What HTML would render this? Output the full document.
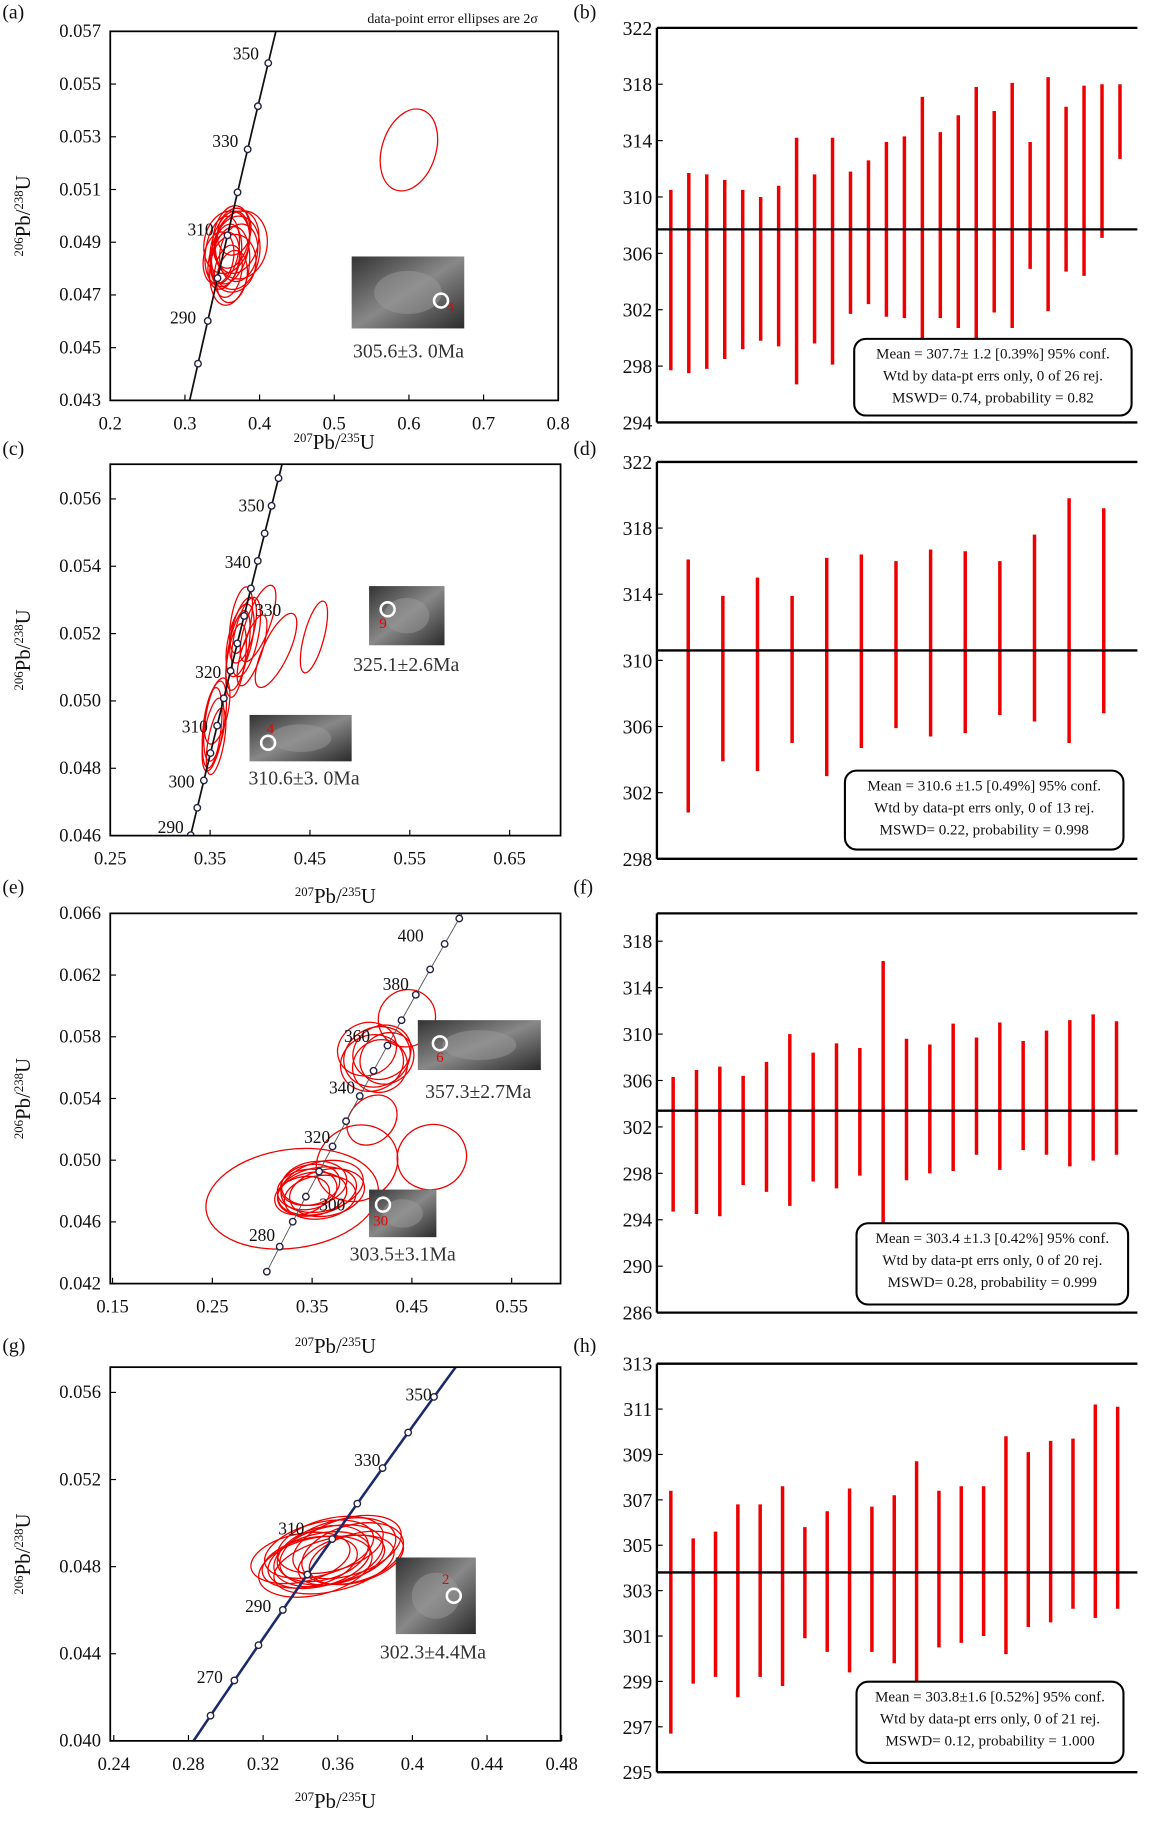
<!DOCTYPE html>
<html><head><meta charset="utf-8"><style>
html,body{margin:0;padding:0;background:#fff}
svg{display:block}
text{font-family:"Liberation Serif",serif;fill:#111}
</style></head><body>
<svg id="fig" width="1149" height="1825" viewBox="0 0 990 1572.5" preserveAspectRatio="none" xmlns="http://www.w3.org/2000/svg">
<defs>
<linearGradient id="g1" x1="0" y1="0" x2="1" y2="1"><stop offset="0" stop-color="#333"/><stop offset="0.5" stop-color="#888"/><stop offset="1" stop-color="#2a2a2a"/></linearGradient>
</defs>
</svg>
<script>
// ===== Weighted-mean data =====
const bTop=[310.5,311.7,311.6,311.2,310.5,310,310.8,314.2,311.6,314.2,311.8,312.6,313.9,314.3,317.1,314.6,315.8,317.8,316.1,318.1,313.9,318.5,316.4,317.9,318,318];
const bBot=[297.7,297.5,297.8,298.5,299.2,299.8,299.4,296.7,299.6,298.1,301.7,302.4,301.5,301.4,299.9,301.4,300.7,299.9,301.8,300.7,304.9,301.9,304.7,304.4,307.1,312.7];
const bMean=[307.7];
const bTicks=[294,298,302,306,310,314,318,322];
const dTop=[316.1,313.9,315,313.9,316.2,316.4,316,316.7,316.6,316,317.6,319.8,319.2];
const dBot=[300.8,303.9,303.3,305,303,304.7,305.9,305.4,305.6,306.7,306.3,305,306.8];
const dMean=[310.6];
const dTicks=[298,302,306,310,314,318,322];
const fTop=[306.3,306.9,307.2,306.4,307.6,310,308.4,309.2,308.8,316.3,309.6,309.1,310.9,309.7,311,309.4,310.3,311.2,311.7,311.1];
const fBot=[294.7,294.5,294.3,297,296.4,295.2,297.3,296.7,297.8,293.4,297.4,298,298.2,299.6,298.3,300,299.6,298.6,299.1,299.6];
const fMean=[303.4];
const fTicks=[286,290,294,298,302,306,310,314,318];
const hTop=[307.4,305.3,305.6,306.8,306.8,307.6,305.8,306.5,307.5,306.7,307.2,308.7,307.4,307.6,307.6,309.8,309.1,309.6,309.7,311.2,311.1];
const hBot=[296.7,298.9,299.2,298.3,299.2,298.8,300.9,300.3,299.4,300.3,299.8,299,300.5,300.7,301,300.2,301.4,301.6,302.2,301.8,302.2];
const hMean=[303.8];
const hTicks=[295,297,299,301,303,305,307,309,311,313];
// ===== Concordia ellipse data =====
const aCx=[0.355,0.36,0.365,0.35,0.37,0.358,0.362,0.368,0.352,0.375,0.36,0.345,0.366,0.356,0.372,0.363,0.6];
const aCy=[0.0485,0.0488,0.0482,0.0487,0.049,0.0479,0.0492,0.0486,0.0483,0.0489,0.0481,0.0484,0.0494,0.049,0.0486,0.0477,0.0525];
const aRx=[0.02,0.025,0.03,0.022,0.028,0.018,0.024,0.032,0.02,0.035,0.026,0.02,0.022,0.03,0.025,0.02,0.036];
const aRy=[0.0012,0.0014,0.0011,0.0013,0.0012,0.001,0.0012,0.0014,0.0011,0.0013,0.0015,0.001,0.0009,0.0012,0.0011,0.001,0.0016];
const aAng=[-80,-78,-82,-80,-76,-80,-79,-81,-78,-80,-82,-80,-78,-77,-80,-80,-72];
const cCx=[0.38,0.378,0.383,0.376,0.386,0.381,0.355,0.353,0.357,0.352,0.356,0.416,0.454,0.398,0.392];
const cCy=[0.0518,0.0515,0.0521,0.0512,0.0519,0.0524,0.0494,0.049,0.0497,0.0492,0.0488,0.0515,0.0519,0.0523,0.0515];
const cRx=[0.012,0.01,0.011,0.009,0.012,0.01,0.01,0.009,0.011,0.009,0.008,0.013,0.01,0.012,0.01];
const cRy=[0.0011,0.0012,0.001,0.0011,0.0012,0.001,0.0012,0.0011,0.001,0.0012,0.001,0.0012,0.0011,0.0012,0.0011];
const cAng=[-78,-80,-76,-82,-78,-80,-82,-80,-78,-84,-80,-65,-75,-70,-72];
const eCx=[0.33,0.355,0.35,0.36,0.345,0.365,0.352,0.34,0.358,0.348,0.395,0.47,0.41,0.415,0.42,0.41,0.425,0.405,0.418,0.445];
const eCy=[0.0475,0.048,0.0478,0.0483,0.0481,0.0479,0.0485,0.0477,0.0476,0.0484,0.0498,0.0502,0.0526,0.0567,0.057,0.0563,0.0566,0.0572,0.0561,0.0592];
const eRx=[0.087,0.04,0.035,0.042,0.03,0.038,0.033,0.028,0.036,0.03,0.042,0.035,0.022,0.034,0.03,0.032,0.028,0.03,0.026,0.028];
const eRy=[0.0032,0.0015,0.0014,0.0016,0.0013,0.0015,0.0014,0.0012,0.0014,0.0013,0.0024,0.0021,0.0018,0.0019,0.0017,0.0018,0.0016,0.0017,0.0018,0.0019];
const eAng=[-8,-12,-10,-14,-8,-12,-10,-15,-8,-12,-30,-18,-45,-25,-30,-20,-35,-22,-28,-45];
const gCx=[0.355,0.35,0.36,0.345,0.365,0.352,0.358,0.34,0.368,0.35,0.362,0.356,0.348,0.37];
const gCy=[0.0485,0.0483,0.0487,0.0482,0.0489,0.0486,0.0481,0.0484,0.0486,0.0488,0.0483,0.049,0.048,0.0484];
const gRx=[0.03,0.028,0.032,0.026,0.03,0.025,0.033,0.027,0.028,0.03,0.024,0.029,0.031,0.026];
const gRy=[0.0013,0.0012,0.0014,0.0011,0.0013,0.0012,0.0012,0.0011,0.0013,0.0012,0.001,0.0012,0.0013,0.0011];
const gAng=[-15,-14,-16,-13,-17,-15,-14,-12,-16,-15,-18,-14,-13,-16];

const NS='http://www.w3.org/2000/svg';
const svg=document.getElementById('fig');
function mk(tag,attrs,parent){const e=document.createElementNS(NS,tag);for(const k in attrs)e.setAttribute(k,attrs[k]);(parent||svg).appendChild(e);return e;}
function txt(x,y,s,size,anchor,parent){const t=mk('text',{x:x,y:y,'font-size':size,'text-anchor':anchor||'start'},parent);t.innerHTML=s;return t;}

const L238=1.55125e-10,L235=9.8485e-10;
function r68(t){return Math.exp(L238*t*1e6)-1;}
function r75(t){return Math.exp(L235*t*1e6)-1;}

function concPanel(id,P,xt,yt,ydec,conc,ell,imgs,ages,lblY){
  const g=mk('g',{});
  
  
  const sx=v=>P.x0+(v-P.xmin)/(P.xmax-P.xmin)*(P.x1-P.x0);
  const sy=v=>P.y1-(v-P.ymin)/(P.ymax-P.ymin)*(P.y1-P.y0);
  const cp=mk('clipPath',{id:'cp'+id},g);
  mk('rect',{x:P.x0,y:P.y0,width:P.x1-P.x0,height:P.y1-P.y0},cp);
  const inner=mk('g',{'clip-path':'url(#cp'+id+')'},g);
  for(let i=0;i<ell.cx.length;i++){
    const rxp=ell.rx[i]/(P.xmax-P.xmin)*(P.x1-P.x0), ryp=ell.ry[i]/(P.ymax-P.ymin)*(P.y1-P.y0);
    const cx=sx(ell.cx[i]),cy=sy(ell.cy[i]);
    const a=Math.max(rxp,ryp),b=Math.min(rxp,ryp);
    const e=mk('ellipse',{cx:cx,cy:cy,rx:a,ry:b,transform:'rotate('+ell.ang[i]+' '+cx+' '+cy+')',fill:'none',stroke:'#e00',
      'stroke-width':1.1},inner);
    
    
  }
  let d='';
  for(let t=conc.tmin;t<=conc.tmax;t+=1){d+=(d?'L':'M')+sx(r75(t)).toFixed(2)+','+sy(r68(t)).toFixed(2);}
  const cl=mk('path',{d:d,fill:'none',stroke:conc.color,'stroke-width':conc.w},inner);
  
  
  for(let t=Math.ceil(conc.tmin/conc.step)*conc.step;t<=conc.tmax;t+=conc.step){
    const c=mk('circle',{cx:sx(r75(t)),cy:sy(r68(t)),r:2.8,fill:'#fff',stroke:'#224','stroke-width':1.2},inner);
    
    
  }
  conc.labels.forEach(l=>{
    const t=txt(sx(r75(l[0]))+l[1],sy(r68(l[0]))+l[2],String(l[0]),15,'end',g);
    
    
  });
  imgs.forEach(im=>{
    const r=mk('rect',{x:im.x,y:im.y,width:im.w,height:im.h,fill:'url(#g1)'},g);
    
    
    mk('ellipse',{cx:im.x+im.w*0.5,cy:im.y+im.h*0.5,rx:im.w*0.3,ry:im.h*0.3,fill:'#999',opacity:0.5},g);
    mk('circle',{cx:im.cx,cy:im.cy,r:6,fill:'none',stroke:'#fff','stroke-width':2.2},g);
    const n=txt(im.cx+im.nx,im.cy+im.ny,im.n,13,'middle',g);n.style.fill='#e00';
  });
  ages.forEach(a=>{const t=txt(a[0],a[1],a[2],17,'middle',g);t.style.fill='#333';
    });
  const fr=mk('rect',{x:P.x0,y:P.y0,width:P.x1-P.x0,height:P.y1-P.y0,fill:'none',stroke:'#000','stroke-width':P.fw||1.5},g);
  
  xt.forEach(v=>{
    mk('line',{x1:sx(v),x2:sx(v),y1:P.y1,y2:P.y1-5,stroke:'#000'},g);
    const t=txt(sx(v),P.y1+25,String(v),16,'middle',g);
    
  });
  yt.forEach(v=>{
    mk('line',{x1:P.x0,x2:P.x0+5,y1:sy(v),y2:sy(v),stroke:'#000'},g);
    const t=txt(P.x0-8,sy(v)+5,v.toFixed(3),16,'end',g);
    
  });
  const xl=txt((P.x0+P.x1)/2,P.y1+lblY,'<tspan baseline-shift="super" font-size="11">207</tspan>Pb/<tspan baseline-shift="super" font-size="11">235</tspan>U',18,'middle',g);
  
  const yc=(P.y0+P.y1)/2;
  const yl=txt(26,yc,'<tspan baseline-shift="super" font-size="11">206</tspan>Pb/<tspan baseline-shift="super" font-size="11">238</tspan>U',18,'middle',g);
  yl.setAttribute('transform','rotate(-90 26 '+yc+')');
  
}

function barPanel(id,P,top,bot,mean,ticks,box,lines){
  const g=mk('g',{});
  
  
  const sy=v=>P.y1-(v-P.ymin)/(P.ymax-P.ymin)*(P.y1-P.y0);
  const n=top.length;
  const sx=i=>P.bx0+i*(P.bx1-P.bx0)/(n-1);
  for(let i=0;i<n;i++){
    const b=mk('line',{x1:sx(i),x2:sx(i),y1:sy(top[i]),y2:sy(bot[i]),stroke:'#e00','stroke-width':3},g);
    
    
  }
  const m=mk('line',{x1:P.x0,x2:P.x1,y1:sy(mean[0]),y2:sy(mean[0]),stroke:'#000','stroke-width':2},g);
  
  const bx=mk('rect',{x:box.x,y:box.y,width:box.w,height:box.h,rx:10,fill:'#fff',stroke:'#000','stroke-width':1.8},g);
  
  lines.forEach((s,k)=>{const t=txt(box.x+box.w/2,box.y+17+k*19,s,13,'middle',g);
    });
  const fr=mk('path',{d:'M'+P.x0+','+P.y0+'H'+P.x1+'M'+P.x0+','+P.y1+'H'+P.x1+'M'+P.x0+','+P.y0+'V'+P.y1,fill:'none',stroke:'#000','stroke-width':2},g);
  
  ticks.forEach(v=>{
    mk('line',{x1:P.x0,x2:P.x0+5,y1:sy(v),y2:sy(v),stroke:'#000'},g);
    const t=txt(P.x0-4,sy(v)+6,String(v),17,'end',g);
    
  });
}

[['(a)',2,16],['(b)',494,16],['(c)',2,392],['(d)',494,392],['(e)',2,770],['(f)',494,770],['(g)',2,1165],['(h)',494,1165]].forEach(p=>{
  const t=txt(p[1],p[2],p[0],17,'start');});
const tt=txt(390,20,'data-point error ellipses are 2σ',12,'middle');


concPanel('a',{x0:95,x1:481,y0:27,y1:345,xmin:0.2,xmax:0.8,ymin:0.043,ymax:0.057},
  [0.2,0.3,0.4,0.5,0.6,0.7,0.8],[0.043,0.045,0.047,0.049,0.051,0.053,0.055,0.057],3,
  {tmin:260,tmax:370,step:10,color:'#111',w:1.5,labels:[[350,-8,-3],[330,-8,-2],[310,-12,0],[290,-10,2]]},
  {cx:aCx,cy:aCy,rx:aRx,ry:aRy,ang:aAng},
  [{x:303,y:221,w:97,h:62,cx:380,cy:259,n:'4',nx:8,ny:10}],
  [[352,308,'305.6±3. 0Ma']],42);

concPanel('c',{x0:95,x1:483,y0:400,y1:720,xmin:0.25,xmax:0.701,ymin:0.046,ymax:0.05703},
  [0.25,0.35,0.45,0.55,0.65],[0.046,0.048,0.050,0.052,0.054,0.056],3,
  {tmin:285,tmax:360,step:5,color:'#111',w:1.5,labels:[[350,-6,5],[340,-6,6],[330,32,0],[320,-8,6],[310,-8,6],[300,-8,6],[290,-6,-2]]},
  {cx:cCx,cy:cCy,rx:cRx,ry:cRy,ang:cAng},
  [{x:318,y:505,w:65,h:51,cx:334,cy:525,n:'9',nx:-4,ny:16},{x:215,y:616,w:88,h:40,cx:231,cy:640,n:'4',nx:2,ny:-8}],
  [[350,578,'325.1±2.6Ma'],[262,676,'310.6±3. 0Ma']],58);

concPanel('e',{x0:95,x1:483,y0:787,y1:1106,xmin:0.1477,xmax:0.599,ymin:0.042,ymax:0.066},
  [0.15,0.25,0.35,0.45,0.55],[0.042,0.046,0.050,0.054,0.058,0.062,0.066],3,
  {tmin:270,tmax:415,step:10,color:'#555',w:0.8,labels:[[400,-18,-2],[380,-6,-4],[360,-15,-3],[340,-4,-2],[320,-2,-3],[300,34,12],[280,-4,-5]]},
  {cx:eCx,cy:eCy,rx:eRx,ry:eRy,ang:eAng},
  [{x:360,y:879,w:106,h:43,cx:379,cy:899,n:'6',nx:0,ny:16},{x:318,y:1025,w:58,h:41,cx:330,cy:1038,n:'30',nx:-2,ny:18}],
  [[412,946,'357.3±2.7Ma'],[347,1086,'303.5±3.1Ma']],60);

concPanel('g',{x0:95,x1:483,y0:1178,y1:1500,xmin:0.2381,xmax:0.4794,ymin:0.040,ymax:0.05716},
  [0.24,0.28,0.32,0.36,0.40,0.44,0.48],[0.040,0.044,0.048,0.052,0.056],3,
  {tmin:240,tmax:370,step:10,color:'#1a2a6a',w:2.2,labels:[[350,-2,3],[330,-2,-2],[310,-24,-4],[290,-10,2],[270,-10,2]]},
  {cx:gCx,cy:gCy,rx:gRx,ry:gRy,ang:gAng},
  [{x:341,y:1342,w:69,h:66,cx:391,cy:1375,n:'2',nx:-7,ny:-10}],
  [[373,1429,'302.3±4.4Ma']],58);

barPanel('b',{x0:566,x1:980,y0:24,y1:364,ymin:294,ymax:322,bx0:578,bx1:965},bTop,bBot,bMean,bTicks,
  {x:736,y:292,w:239,h:66},['Mean = 307.7± 1.2  [0.39%]  95% conf.','Wtd by data-pt errs only, 0 of 26 rej.','MSWD= 0.74, probability = 0.82']);
barPanel('d',{x0:566,x1:980,y0:398,y1:740,ymin:298,ymax:322,bx0:593,bx1:951},dTop,dBot,dMean,dTicks,
  {x:728,y:664,w:240,h:68},['Mean = 310.6 ±1.5  [0.49%]  95% conf.','Wtd by data-pt errs only, 0 of 13 rej.','MSWD= 0.22, probability = 0.998']);
barPanel('f',{x0:566,x1:980,y0:787,y1:1131,ymin:286,ymax:320.4,bx0:580,bx1:962},fTop,fBot,fMean,fTicks,
  {x:738,y:1054,w:234,h:70},['Mean = 303.4 ±1.3  [0.42%]  95% conf.','Wtd by data-pt errs only, 0 of 20 rej.','MSWD= 0.28, probability = 0.999']);
barPanel('h',{x0:566,x1:980,y0:1175,y1:1527,ymin:295,ymax:313,bx0:578,bx1:963},hTop,hBot,hMean,hTicks,
  {x:738,y:1449,w:230,h:70},['Mean = 303.8±1.6  [0.52%]  95% conf.','Wtd by data-pt errs only, 0 of 21 rej.','MSWD= 0.12, probability = 1.000']);
</script>
</body></html>
